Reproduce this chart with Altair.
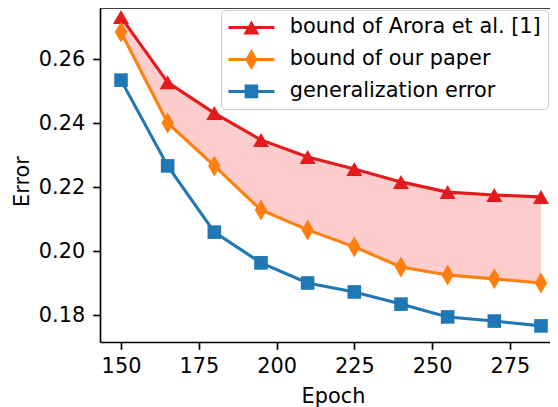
import altair as alt
import pandas as pd

epochs = [150, 165, 180, 195, 210, 225, 240, 255, 270, 285]
arora = [0.2731, 0.2527, 0.2431, 0.2347, 0.2294, 0.2256, 0.2216, 0.2184, 0.2175, 0.2169]
ours = [0.2684, 0.2400, 0.2266, 0.2128, 0.2066, 0.2013, 0.1950, 0.1925, 0.1913, 0.1900]
gen = [0.2534, 0.2266, 0.2059, 0.1963, 0.1900, 0.1872, 0.1834, 0.1794, 0.1781, 0.1766]

names = ["bound of Arora et al. [1]", "bound of our paper", "generalization error"]
colors = ["#e41a1c", "#ff7f0e", "#1f77b4"]
series_vals = [arora, ours, gen]

x_ticks = [150, 175, 200, 225, 250, 275]
y_ticks = [0.18, 0.20, 0.22, 0.24, 0.26]

FONT = "DejaVu Sans"
FS = 20.83

# marker paths (unit = 10 px at size 400)
tri = "M0,-0.7L0.8,0.7L-0.8,0.7Z"
dia = "M0,-1.05L0.62,0L0,1.05L-0.62,0Z"
sq = "M-0.68,-0.68H0.68V0.68H-0.68Z"
markers = [tri, dia, sq]
seg = "M-2.3,-0.15H2.3V0.15H-2.3Z"
legend_paths = [seg + m for m in markers]

wide = pd.DataFrame({"epoch": epochs, "arora": arora, "ours": ours})
long = pd.DataFrame(
    [{"epoch": e, "value": v, "series": n} for n, vals in zip(names, series_vals) for e, v in zip(epochs, vals)]
)

xs = alt.Scale(domain=[143.25, 287.9], nice=False, zero=False)
ys = alt.Scale(domain=[0.1715625, 0.2759375], nice=False, zero=False)

x_axis = alt.Axis(
    values=x_ticks, format="d", grid=False, title="Epoch",
    labelFont=FONT, labelFontSize=FS, labelColor="black", labelPadding=7,
    tickColor="black", tickSize=7.3, tickWidth=1.67,
    domainColor="black", domainWidth=1.67,
    titleFont=FONT, titleFontSize=FS, titleFontWeight="normal", titleColor="black",
    titleX=233, titleY=60, titleBaseline="alphabetic", titleAlign="center",
)
y_axis = alt.Axis(
    values=y_ticks, format=".2f", grid=False, title="Error",
    labelFont=FONT, labelFontSize=FS, labelColor="black", labelPadding=8,
    tickColor="black", tickSize=7.3, tickWidth=1.67,
    domainColor="black", domainWidth=1.67,
    titleFont=FONT, titleFontSize=FS, titleFontWeight="normal", titleColor="black",
    titleX=-72, titleY=173, titleBaseline="alphabetic", titleAlign="center", titleAngle=270,
)

base = alt.Chart(long)

band = alt.Chart(wide).mark_area(color="#fdcccc", opacity=1).encode(
    x=alt.X("epoch:Q", scale=xs, axis=x_axis),
    y=alt.Y("ours:Q", scale=ys, axis=y_axis),
    y2="arora:Q",
)

layers = [band]
for n, c, m in zip(names, colors, markers):
    sub = base.transform_filter(alt.datum.series == n)
    layers.append(
        sub.mark_line(color=c, strokeWidth=3.1).encode(
            x=alt.X("epoch:Q", scale=xs, axis=x_axis),
            y=alt.Y("value:Q", scale=ys, axis=y_axis),
        )
    )
    layers.append(
        sub.mark_point(shape=m, filled=True, size=400, color=c, opacity=1, strokeWidth=0).encode(
            x=alt.X("epoch:Q", scale=xs, axis=x_axis),
            y=alt.Y("value:Q", scale=ys, axis=y_axis),
        )
    )

legend = alt.Legend(
    title=None, orient="none", legendX=121, legendY=2,
    labelFont=FONT, labelFontSize=FS, labelColor="black", labelLimit=500,
    symbolSize=400, symbolOffset=13, labelOffset=28, rowPadding=10,
    padding=7, strokeColor="#cccccc", cornerRadius=4,
    fillColor="rgba(255,255,255,0.8)", symbolOpacity=1, symbolStrokeWidth=0,
)
legend_layer = base.transform_filter("false").mark_point(filled=True, size=400, opacity=1).encode(
    x=alt.X("epoch:Q", scale=xs, axis=x_axis),
    y=alt.Y("value:Q", scale=ys, axis=y_axis),
    color=alt.Color("series:N", scale=alt.Scale(domain=names, range=colors), legend=legend),
    shape=alt.Shape("series:N", scale=alt.Scale(domain=names, range=legend_paths), legend=legend),
)
layers.append(legend_layer)

top_rule = alt.Chart(alt.Data(values=[{"a": 1}])).mark_rule(color="black", strokeWidth=1.67).encode(
    x=alt.value(0), x2=alt.value(450), y=alt.value(0)
)
layers.append(top_rule)

chart = alt.layer(*layers).properties(
    width=450, height=334,
    autosize=alt.AutoSizeParams(type="none"),
    padding={"left": 92, "top": 0, "right": 0, "bottom": 66},
    background="white",
).configure_view(stroke=None)

chart.save("out.html", embed_options={"renderer": "svg", "actions": False})
